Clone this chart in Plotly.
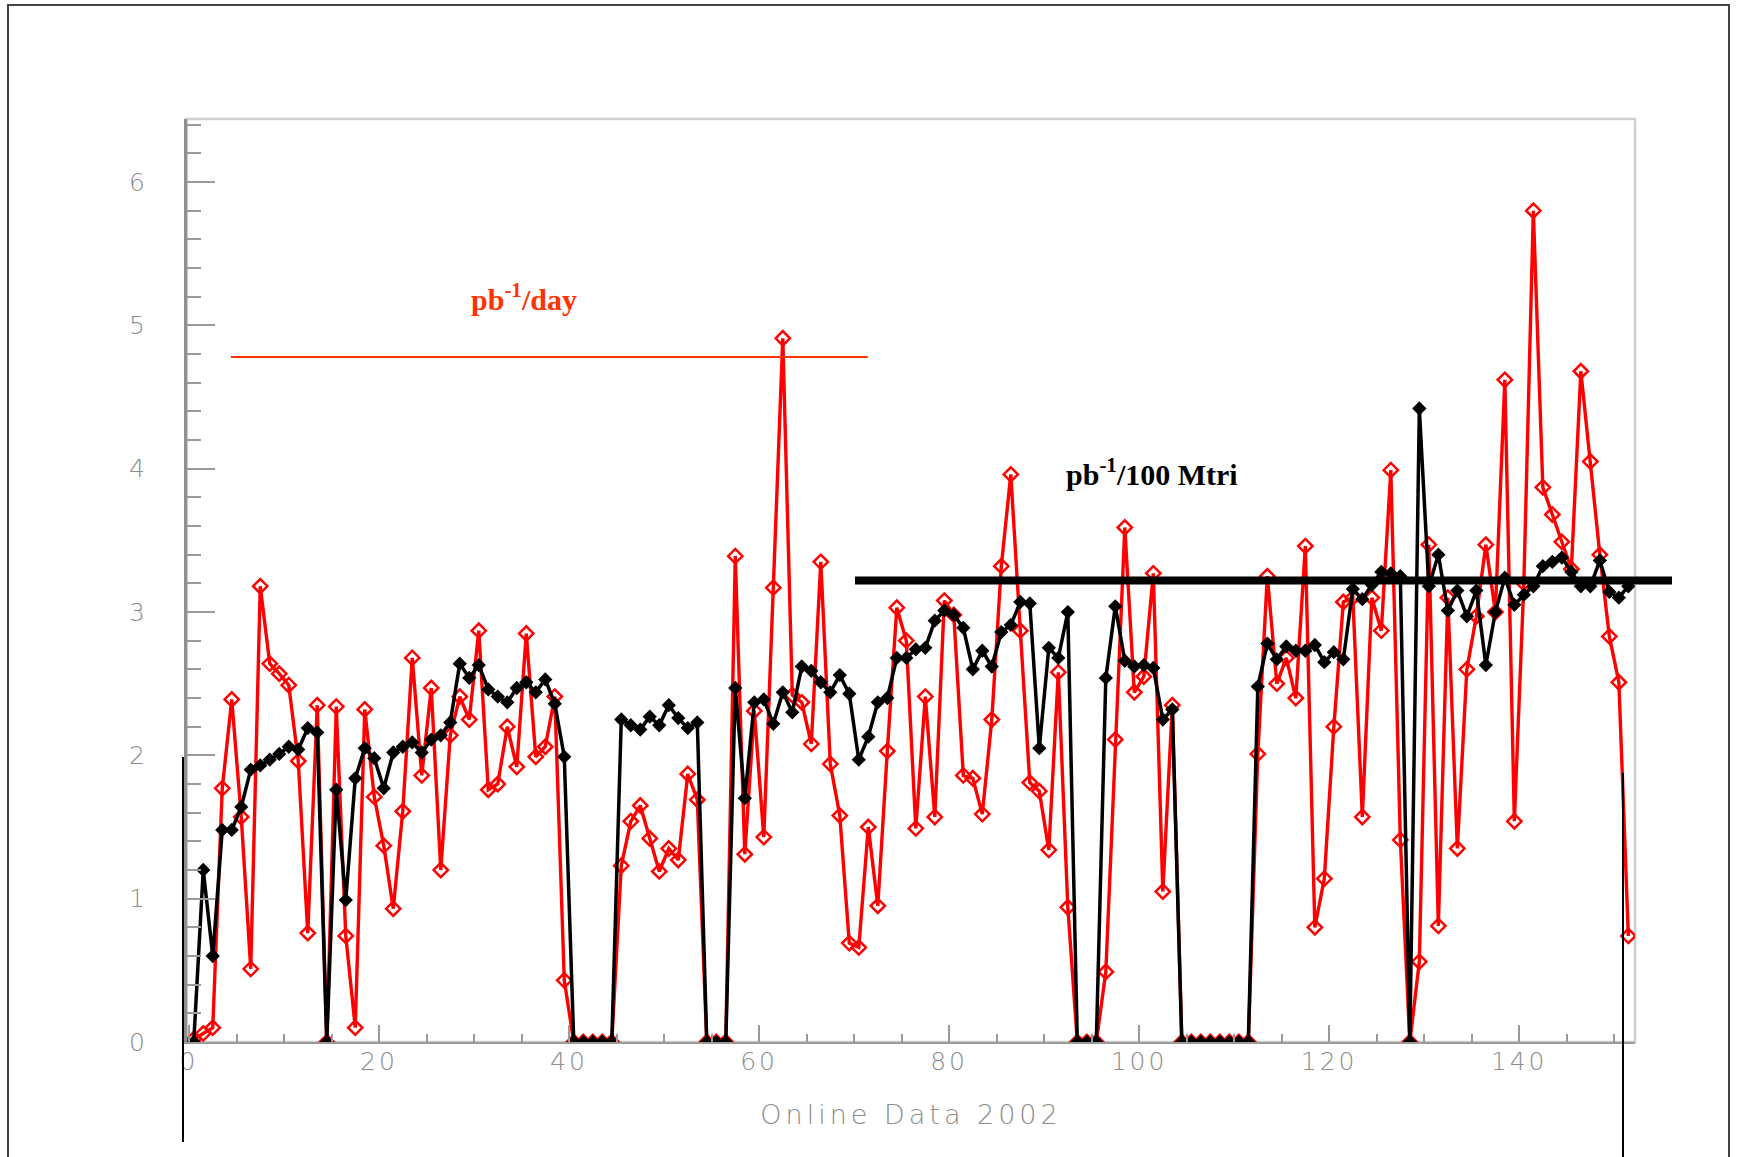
import plotly.graph_objects as go

# ---- data (bin centres, day index 0..151) ----
day_index = list(range(152))
days = [d + 0.5 for d in day_index]

lumi_per_day = [
    0.02, 0.06, 0.10, 1.77, 2.39, 1.57, 0.51, 3.18, 2.64, 2.57,
    2.49, 1.96, 0.76, 2.35, 0.00, 2.34, 0.74, 0.10, 2.32, 1.71,
    1.37, 0.93, 1.61, 2.68, 1.86, 2.47, 1.20, 2.14, 2.41, 2.25,
    2.87, 1.76, 1.80, 2.20, 1.92, 2.85, 1.99, 2.06, 2.41, 0.43,
    0.00, 0.00, 0.00, 0.00, 0.00, 1.23, 1.54, 1.65, 1.42, 1.19,
    1.35, 1.27, 1.87, 1.69, 0.00, 0.00, 0.00, 3.39, 1.31, 2.31,
    1.43, 3.17, 4.91, 2.42, 2.37, 2.08, 3.35, 1.94, 1.58, 0.69,
    0.66, 1.50, 0.95, 2.03, 3.03, 2.80, 1.49, 2.41, 1.57, 3.08,
    2.98, 1.86, 1.84, 1.59, 2.25, 3.32, 3.96, 2.87, 1.81, 1.75,
    1.34, 2.58, 0.94, 0.00, 0.00, 0.00, 0.49, 2.11, 3.59, 2.44,
    2.55, 3.27, 1.05, 2.35, 0.00, 0.00, 0.00, 0.00, 0.00, 0.00,
    0.00, 0.00, 2.01, 3.25, 2.50, 2.68, 2.40, 3.46, 0.80, 1.14,
    2.20, 3.07, 3.10, 1.57, 3.10, 2.87, 3.99, 1.41, 0.00, 0.56,
    3.47, 0.81, 3.10, 1.35, 2.60, 2.97, 3.47, 3.00, 4.62, 1.54,
    3.20, 5.80, 3.87, 3.68, 3.49, 3.30, 4.68, 4.05, 3.40, 2.83,
    2.51, 0.74,
]

lumi_per_100M = [
    0.00, 1.20, 0.60, 1.48, 1.48, 1.64, 1.90, 1.93, 1.97, 2.01,
    2.06, 2.04, 2.19, 2.16, 0.00, 1.76, 0.99, 1.84, 2.05, 1.98,
    1.77, 2.02, 2.06, 2.09, 2.02, 2.11, 2.14, 2.23, 2.64, 2.54,
    2.63, 2.46, 2.41, 2.37, 2.47, 2.51, 2.44, 2.53, 2.36, 1.99,
    0.00, 0.00, 0.00, 0.00, 0.00, 2.25, 2.21, 2.18, 2.27, 2.21,
    2.35, 2.26, 2.19, 2.23, 0.00, 0.00, 0.00, 2.47, 1.70, 2.37,
    2.39, 2.22, 2.44, 2.30, 2.62, 2.59, 2.51, 2.44, 2.56, 2.43,
    1.97, 2.13, 2.37, 2.40, 2.68, 2.68, 2.74, 2.75, 2.94, 3.01,
    2.98, 2.89, 2.60, 2.73, 2.62, 2.86, 2.91, 3.07, 3.06, 2.05,
    2.75, 2.68, 3.00, 0.00, 0.00, 0.00, 2.54, 3.04, 2.66, 2.62,
    2.63, 2.61, 2.25, 2.32, 0.00, 0.00, 0.00, 0.00, 0.00, 0.00,
    0.00, 0.00, 2.48, 2.78, 2.67, 2.76, 2.73, 2.73, 2.77, 2.65,
    2.72, 2.67, 3.16, 3.09, 3.19, 3.28, 3.27, 3.25, 0.00, 4.42,
    3.18, 3.40, 3.01, 3.15, 2.97, 3.15, 2.63, 3.00, 3.24, 3.05,
    3.12, 3.18, 3.32, 3.35, 3.38, 3.28, 3.18, 3.18, 3.36, 3.14,
    3.10, 3.18,
]

x_ticks = [0, 20, 40, 60, 80, 100, 120, 140]
y_ticks = [0, 1, 2, 3, 4, 5, 6]
x_range = [-0.21, 152.2]
y_range = [0.0, 6.44]

day_level = 4.78        # red reference line (pb^-1/day)
trig_level = 3.22       # black reference line (pb^-1/100 Mtri)

# ---- figure geometry (pixels) ----
W, H = 1744, 1157
ML, MR, MT, MB = 187, 109, 119, 115
PW, PH = W - ML - MR, H - MT - MB


def px_x(p):
    return (p - ML) / PW


def px_y(p):
    return (H - MB - p) / PH


GRAY_TXT = "#8c8c8c"
AXIS_GRAY = "#9a9a9a"
RED = "#ff0000"
ORANGE_RED = "#ff3300"

fig = go.Figure()

fig.add_trace(go.Scatter(
    x=days, y=lumi_per_day, mode="lines+markers",
    line=dict(color=RED, width=3.4),
    marker=dict(symbol="diamond-open", size=11, color=RED, line=dict(width=2.5, color=RED)),
    showlegend=False, hoverinfo="x+y", name="pb-1/day",
))
fig.add_trace(go.Scatter(
    x=days, y=lumi_per_100M, mode="lines+markers",
    line=dict(color="#000000", width=3.5),
    marker=dict(symbol="diamond", size=11, color="#000000"),
    showlegend=False, hoverinfo="x+y", name="pb-1/100 Mtri",
))

tickfont = dict(family="DejaVu Sans", size=25, color=GRAY_TXT, weight=200)

fig.update_layout(
    width=W, height=H, autosize=False,
    margin=dict(l=ML, r=MR, t=MT, b=MB, pad=0),
    paper_bgcolor="white", plot_bgcolor="white",
    xaxis=dict(
        range=x_range, showgrid=False, zeroline=False,
        showline=True, linecolor=AXIS_GRAY, linewidth=2,
        ticks="inside", ticklen=17, tickwidth=2, tickcolor=AXIS_GRAY,
        tickvals=x_ticks,
        ticktext=[f'<span style="letter-spacing:3px">{v}</span>' for v in x_ticks],
        tickfont=tickfont, ticklabelstandoff=-4,
        minor=dict(dtick=5, ticklen=8, tickwidth=2, tickcolor=AXIS_GRAY, ticks="inside", showgrid=False),
        title=dict(text='<span style="letter-spacing:4px">Online Data 2002</span>',
                   font=dict(family="DejaVu Sans", size=27, color=GRAY_TXT, weight=200),
                   standoff=30),
    ),
    yaxis=dict(
        range=y_range, showgrid=False, zeroline=False,
        showline=True, linecolor="#8f8f8f", linewidth=3,
        ticks="inside", ticklen=28, tickwidth=2, tickcolor=AXIS_GRAY,
        tickvals=y_ticks, ticktext=[str(v) for v in y_ticks],
        tickfont=tickfont, ticklabelstandoff=34,
        minor=dict(dtick=0.2, ticklen=14, tickwidth=2, tickcolor=AXIS_GRAY, ticks="inside", showgrid=False),
    ),
)

shapes = [
    # outer frame of the slide picture
    dict(type="rect", xref="paper", yref="paper",
         x0=px_x(8), x1=px_x(1729), y0=px_y(1175), y1=px_y(5),
         line=dict(color="#444444", width=2), fillcolor="rgba(0,0,0,0)", layer="below"),
    # plot frame (top / right light border)
    dict(type="rect", xref="paper", yref="paper", x0=0, x1=1, y0=0, y1=1,
         line=dict(color="#cfcfcf", width=2.5), fillcolor="rgba(0,0,0,0)", layer="below"),
    # red reference line
    dict(type="line", xref="x", yref="y", x0=4.42, x1=71.44, y0=day_level, y1=day_level,
         line=dict(color=ORANGE_RED, width=2)),
    # black thick reference line (extends past the frame)
    dict(type="line", xref="paper", yref="paper",
         x0=px_x(855), x1=px_x(1672),
         y0=(trig_level - y_range[0]) / (y_range[1] - y_range[0]),
         y1=(trig_level - y_range[0]) / (y_range[1] - y_range[0]),
         line=dict(color="#000000", width=8)),
    # thin vertical black lines
    dict(type="line", xref="paper", yref="paper", x0=px_x(183), x1=px_x(183),
         y0=px_y(757), y1=px_y(1142), line=dict(color="#000000", width=2)),
    dict(type="line", xref="paper", yref="paper", x0=px_x(1623), x1=px_x(1623),
         y0=px_y(773), y1=px_y(1170), line=dict(color="#000000", width=2)),
]
fig.update_layout(shapes=shapes)

fig.add_annotation(
    text="<b>pb<sup>-1</sup>/day</b>", x=35.3, y=5.2, xref="x", yref="y",
    showarrow=False, xanchor="center", yanchor="middle",
    font=dict(family="Liberation Serif", size=30, color=ORANGE_RED),
)
fig.add_annotation(
    text="<b>pb<sup>-1</sup>/100 Mtri</b>", x=101.4, y=3.98, xref="x", yref="y",
    showarrow=False, xanchor="center", yanchor="middle",
    font=dict(family="Liberation Serif", size=30, color="#000000"),
)

fig.write_html(
    "out.html",
    config={"displayModeBar": False},
    post_script="document.body.style.margin='0';document.body.style.overflow='hidden';",
)
